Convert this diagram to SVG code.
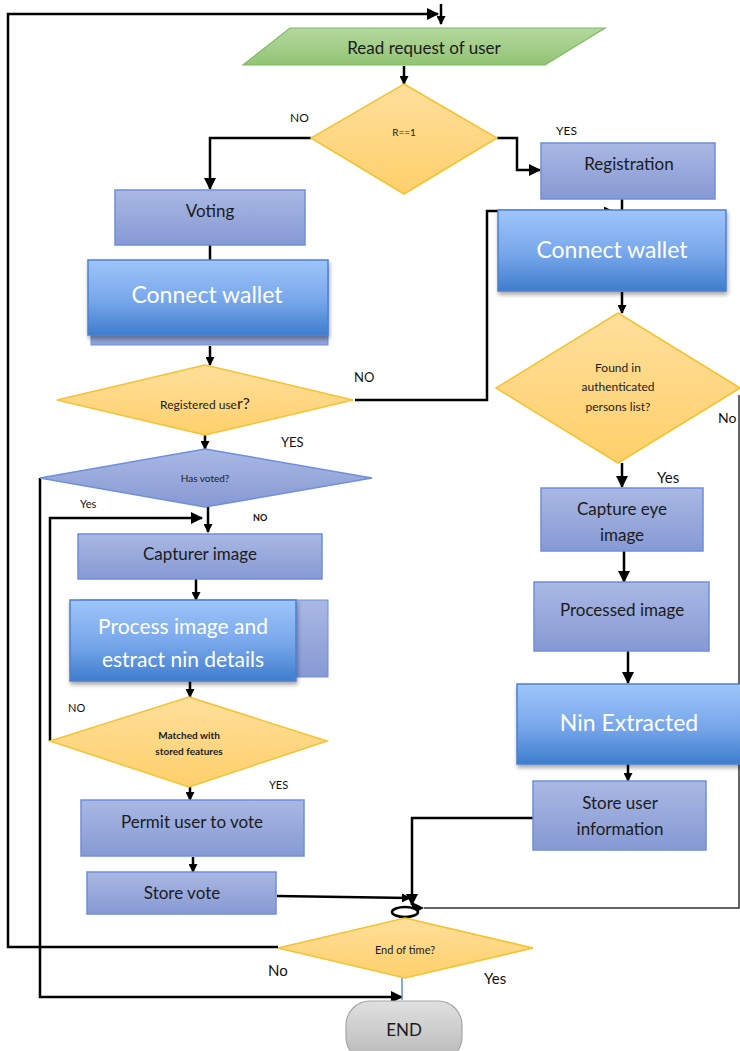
<svg xmlns="http://www.w3.org/2000/svg" width="740" height="1051" viewBox="0 0 740 1051">
<defs>
<linearGradient id="gBlue" x1="0" y1="0" x2="0" y2="1"><stop offset="0" stop-color="#a9b8e3"/><stop offset="1" stop-color="#8799d4"/></linearGradient>
<linearGradient id="gBright" x1="0" y1="0" x2="0" y2="1"><stop offset="0" stop-color="#9fc5fa"/><stop offset="0.55" stop-color="#76a6ea"/><stop offset="1" stop-color="#3f7dcd"/></linearGradient>
<linearGradient id="gOrange" x1="0" y1="0" x2="0" y2="1"><stop offset="0" stop-color="#ffdf9c"/><stop offset="1" stop-color="#ffd06b"/></linearGradient>
<linearGradient id="gGreen" x1="0" y1="0" x2="0" y2="1"><stop offset="0" stop-color="#b4d89e"/><stop offset="1" stop-color="#92c474"/></linearGradient>
<linearGradient id="gGray" x1="0" y1="0" x2="0" y2="1"><stop offset="0" stop-color="#e0e0e0"/><stop offset="1" stop-color="#b8b8b8"/></linearGradient>
<filter id="sh" x="-10%" y="-10%" width="125%" height="130%"><feDropShadow dx="1" dy="3" stdDeviation="2" flood-color="#000" flood-opacity="0.35"/></filter>
<marker id="arr" markerUnits="userSpaceOnUse" markerWidth="12" markerHeight="12" refX="11" refY="6" orient="auto"><path d="M0,0 L12,6 L0,12 z" fill="#000"/></marker>
<marker id="arrs" markerUnits="userSpaceOnUse" markerWidth="9" markerHeight="9" refX="8" refY="4.5" orient="auto"><path d="M0,0 L9,4.5 L0,9 z" fill="#000"/></marker>
<style>
.c{fill:none;stroke:#000;stroke-width:2.5}
.box{fill:url(#gBlue);stroke:#6e8fdc;stroke-width:1.5}
.bright{fill:url(#gBright);stroke:#4a80d2;stroke-width:1.5}
.dia{fill:url(#gOrange);stroke:#f5c232;stroke-width:1.5}
.t{font-family:Lato,"Liberation Sans",sans-serif;fill:#1b1b1b;text-anchor:middle}
.w{font-family:Lato,"Liberation Sans",sans-serif;fill:#fff;text-anchor:middle}
.l{font-family:Lato,"Liberation Sans",sans-serif;fill:#111}
</style>
</defs>
<rect width="740" height="1051" fill="#fff"/>

<g id="connectors">
<polyline class="c" points="278,947 8,947 8,14 438,14" marker-end="url(#arr)"/>
<line class="c" x1="441" y1="4" x2="441" y2="24" marker-end="url(#arrs)"/>
<line class="c" x1="404" y1="66" x2="404" y2="84" marker-end="url(#arrs)"/>
<polyline class="c" points="311,138 210,138 210,189" marker-end="url(#arr)"/>
<polyline class="c" points="497,138 517,138 517,170 540,170" marker-end="url(#arr)"/>
<line class="c" x1="210" y1="245" x2="210" y2="260"/>
<polyline class="c" points="355,400 487,400 487,211 612,211" marker-end="url(#arrs)"/>
<line class="c" x1="622" y1="199" x2="622" y2="211"/>
<line class="c" x1="210" y1="346" x2="210" y2="365" marker-end="url(#arrs)"/>
<line class="c" x1="622" y1="292" x2="622" y2="313" marker-end="url(#arrs)"/>
<line class="c" x1="205" y1="435" x2="205" y2="449" marker-end="url(#arrs)"/>
<polyline class="c" points="40,478 40,997 402,997" marker-end="url(#arr)"/>
<line class="c" x1="208" y1="507" x2="208" y2="532" marker-end="url(#arrs)"/>
<polyline class="c" points="50,741 50,518 202,518" marker-end="url(#arr)"/>
<line class="c" x1="196" y1="579" x2="196" y2="600" marker-end="url(#arrs)"/>
<line class="c" x1="190" y1="681" x2="190" y2="697" marker-end="url(#arrs)"/>
<line class="c" x1="190" y1="787" x2="190" y2="800" marker-end="url(#arrs)"/>
<line class="c" x1="193" y1="857" x2="193" y2="872" marker-end="url(#arrs)"/>
<line class="c" x1="622" y1="463" x2="622" y2="487" marker-end="url(#arr)"/>
<line class="c" x1="624" y1="551" x2="624" y2="582" marker-end="url(#arr)"/>
<line class="c" x1="628" y1="651" x2="628" y2="683" marker-end="url(#arr)"/>
<line class="c" x1="628" y1="764" x2="628" y2="781" marker-end="url(#arrs)"/>
<polyline class="c" points="533,818 412,818 412,905" marker-end="url(#arr)"/>
<line class="c" x1="277" y1="896" x2="410" y2="898" marker-end="url(#arrs)"/>
<polyline fill="none" stroke="#333" stroke-width="1.5" points="739,395 739,908 424,908"/>
<path d="M424,908 L412,902 L412,914 z" fill="#000"/>
<ellipse cx="405" cy="912" rx="13" ry="5" fill="#fff" stroke="#000" stroke-width="2.5"/>
<line x1="402" y1="978" x2="402" y2="1000" stroke="#5b8fd8" stroke-width="1.5"/>
</g>

<g id="read">
<polygon points="290,28 605,28 545,65 243,65" fill="url(#gGreen)" stroke="#7fba62" stroke-width="1.2"/>
<text class="t" x="424" y="54" font-size="17">Read request of user</text>
</g>
<g id="r1">
<polygon class="dia" points="404,84 497,138 404,194 311,138"/>
<text class="t" x="404" y="136" font-size="10">R==1</text>
</g>
<g id="registration">
<rect class="box" x="541" y="143" width="174" height="56"/>
<text class="t" x="629" y="170" font-size="17">Registration</text>
</g>
<g id="voting">
<rect class="box" x="115" y="190" width="190" height="55"/>
<text class="t" x="210" y="217" font-size="17">Voting</text>
</g>
<g id="wallet-left">
<rect x="91" y="270" width="237" height="75" fill="#8ea2d8" stroke="#6e8fdc" stroke-width="1"/>
<rect class="bright" x="88" y="260" width="240" height="75" filter="url(#sh)"/>
<text class="w" x="207" y="303" font-size="23">Connect wallet</text>
</g>
<g id="wallet-right">
<rect class="bright" x="498" y="210" width="228" height="81" filter="url(#sh)"/>
<text class="w" x="612" y="258" font-size="23">Connect wallet</text>
</g>
<g id="registered">
<polygon class="dia" points="205,365 353,400 205,435 57,400"/>
<text class="t" x="205" y="409" font-size="12">Registered use<tspan font-size="16">r?</tspan></text>
</g>
<g id="found">
<polygon class="dia" points="618,313 740,388 618,463 496,388"/>
<text class="t" x="618" y="372" font-size="12">Found in</text>
<text class="t" x="618" y="391" font-size="12">authenticated</text>
<text class="t" x="618" y="411" font-size="12">persons list?</text>
</g>
<g id="hasvoted">
<polygon points="205,449 372,478 205,507 40,478" fill="url(#gBlue)" stroke="#6e8fdc" stroke-width="1.5"/>
<text class="t" x="205" y="482" font-size="10">Has voted?</text>
</g>
<g id="capturer">
<rect class="box" x="78" y="534" width="244" height="45"/>
<text class="t" x="200" y="560" font-size="17">Capturer image</text>
</g>
<g id="process">
<rect x="80" y="600" width="248" height="77" fill="url(#gBlue)" stroke="#6e8fdc" stroke-width="1"/>
<rect class="bright" x="70" y="600" width="226" height="81" filter="url(#sh)"/>
<text class="w" x="183" y="634" font-size="21">Process image and</text>
<text class="w" x="183" y="667" font-size="21">estract nin details</text>
</g>
<g id="matched">
<polygon class="dia" points="189,697 327,741 189,787 50,741"/>
<text class="t" x="189" y="739" font-size="10" font-weight="bold">Matched with</text>
<text class="t" x="189" y="755" font-size="10" font-weight="bold">stored features</text>
</g>
<g id="permit">
<rect class="box" x="81" y="800" width="223" height="56"/>
<text class="t" x="192" y="828" font-size="17">Permit user to vote</text>
</g>
<g id="storevote">
<rect class="box" x="87" y="872" width="189" height="42"/>
<text class="t" x="182" y="899" font-size="17">Store vote</text>
</g>
<g id="capture-eye">
<rect class="box" x="541" y="488" width="162" height="63"/>
<text class="t" x="622" y="515" font-size="17">Capture eye</text>
<text class="t" x="622" y="541" font-size="17">image</text>
</g>
<g id="processed">
<rect class="box" x="534" y="582" width="175" height="69"/>
<text class="t" x="622" y="616" font-size="17">Processed image</text>
</g>
<g id="nin">
<rect class="bright" x="517" y="684" width="226" height="80" filter="url(#sh)"/>
<text class="w" x="629" y="731" font-size="23">Nin Extracted</text>
</g>
<g id="storeuser">
<rect class="box" x="533" y="781" width="173" height="69"/>
<text class="t" x="620" y="809" font-size="17">Store user</text>
<text class="t" x="620" y="835" font-size="17">information</text>
</g>
<g id="endtime">
<polygon class="dia" points="405,918 533,948 405,978 278,948"/>
<text class="t" x="405" y="954" font-size="11">End of time?</text>
</g>
<g id="end">
<rect x="346" y="1001" width="116" height="60" rx="24" fill="url(#gGray)" stroke="#a6a6a6" stroke-width="1.2"/>
<text class="t" x="404" y="1036" font-size="17">END</text>
</g>

<g id="labels">
<text class="l" x="290" y="122" font-size="12">NO</text>
<text class="l" x="556" y="135" font-size="12">YES</text>
<text class="l" x="354" y="382" font-size="13">NO</text>
<text class="l" x="281" y="447" font-size="13">YES</text>
<text class="l" x="718" y="423" font-size="14">No</text>
<text class="l" x="657" y="483" font-size="15">Yes</text>
<text class="l" x="80" y="508" font-size="11">Yes</text>
<text class="l" x="253" y="521" font-size="9" font-weight="bold">NO</text>
<text class="l" x="68" y="712" font-size="11">NO</text>
<text class="l" x="269" y="789" font-size="11">YES</text>
<text class="l" x="268" y="976" font-size="15">No</text>
<text class="l" x="484" y="984" font-size="15">Yes</text>
</g>
</svg>
